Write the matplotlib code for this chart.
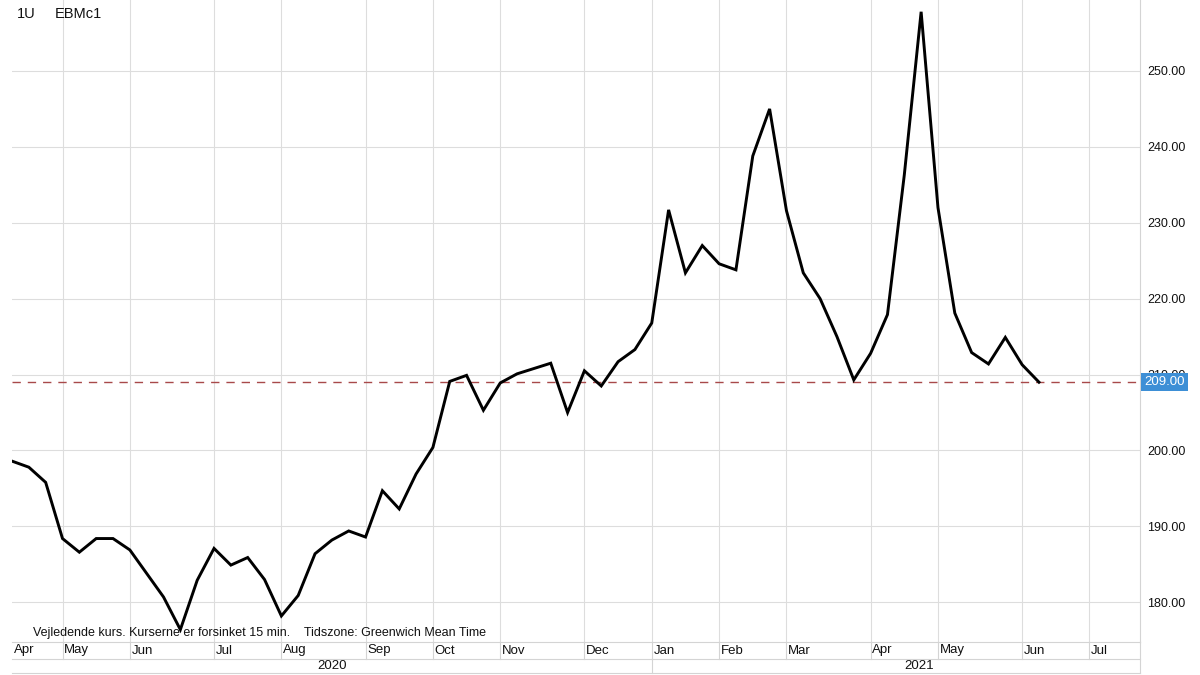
#!/usr/bin/env python3
# -*- coding: utf-8 -*-
"""
EBMc1 ugentlig kurs - genskabelse af Reuters-lignende graf
"""

import datetime as dt
import numpy as np
import matplotlib
matplotlib.use('Agg')
import matplotlib.pyplot as plt
import matplotlib.transforms as mtransforms

plt.rcParams['font.family'] = ['Liberation Sans', 'DejaVu Sans']

# data: ugentlige lukkekurser (mandage), fra 13. april 2020
start_date = dt.date(2020, 4, 13)
prices = [
    198.6, 197.8, 195.8, 188.4, 186.6, 188.4, 188.4, 186.9, 183.8, 180.7,
    176.4, 182.9, 187.1, 184.9, 185.9, 183.0, 178.2, 180.9, 186.4, 188.2,
    189.4, 188.6, 194.7, 192.3, 196.9, 200.4, 209.1, 209.9, 205.3, 208.9,
    210.1, 210.8, 211.5, 205.0, 210.5, 208.5, 211.7, 213.3, 216.8, 231.7,
    223.4, 227.0, 224.6, 223.8, 238.8, 245.0, 231.6, 223.4, 220.0, 215.0,
    209.3, 212.8, 217.9, 236.3, 257.8, 232.0, 218.1, 212.9, 211.4, 214.9,
    211.3, 209.0,
]
last_price = 209.00
y_ticks = [180, 190, 200, 210, 220, 230, 240, 250]
years = ['2020', '2021']
n_axis_weeks = 67  # uger vist paa x-aksen

grid_col = '#dddddd'
line_col = '#d4d4d4'
text_col = '#111111'

# datoer og maanedsskift (foerste uge i hver maaned)
dates = [start_date + dt.timedelta(weeks=i) for i in range(n_axis_weeks)]
month_idx = [i for i in range(n_axis_weeks) if i == 0 or dates[i].month != dates[i - 1].month]
month_names = [dates[i].strftime('%b') for i in month_idx]
year_start = [i for i in month_idx if dates[i].month == 1]

fig = plt.figure(figsize=(12, 6.75), dpi=100)
ax = fig.add_axes([12 / 1200, 33 / 675, 1128 / 1200, 642 / 675])

x = np.arange(len(prices))
ax.plot(x, prices, color='black', linewidth=2.1, zorder=3, solid_joinstyle='miter')
ax.axhline(last_price, color='#a8494a', linewidth=1.0, dashes=(6, 5), zorder=2)

ax.set_xlim(0, n_axis_weeks)
ax.set_ylim(174.77, 259.35)

# gitter
ax.set_xticks(month_idx[1:])
ax.set_xticklabels([])
ax.set_yticks(y_ticks)
ax.set_yticklabels([f'{v:.2f}' for v in y_ticks])
ax.yaxis.tick_right()
ax.tick_params(axis='both', length=0)
ax.tick_params(axis='y', pad=5, labelsize=9, labelcolor=text_col)
ax.grid(True, color=grid_col, linewidth=0.8, zorder=0)

for side in ['left', 'top']:
    ax.spines[side].set_visible(False)
for side in ['right', 'bottom']:
    ax.spines[side].set_color(line_col)
    ax.spines[side].set_linewidth(0.8)

# aksefelter under grafen: maaneder og aar
trans = ax.get_xaxis_transform()
h_px = 642.0
row1 = -17 / h_px
row2 = -31 / h_px
for yy in [row1, row2]:
    ax.plot([0, n_axis_weeks], [yy, yy], color=line_col, linewidth=0.8,
            transform=trans, clip_on=False)
ax.plot([n_axis_weeks, n_axis_weeks], [0, row2], color=line_col, linewidth=0.8,
        transform=trans, clip_on=False)
for i, name in zip(month_idx, month_names):
    if i > 0:
        ax.plot([i, i], [0, row1], color=line_col, linewidth=0.8,
                transform=trans, clip_on=False)
    ax.text(i + 0.1, row1 / 2, name, transform=trans, ha='left', va='center',
            fontsize=9.5, color=text_col)
for i in year_start:
    ax.plot([i, i], [row1, row2], color=line_col, linewidth=0.8,
            transform=trans, clip_on=False)

ax.text(year_start[0] / 2, (row1 + row2) / 2, years[0], transform=trans,
        ha='center', va='center', fontsize=9.5, color=text_col)
ax.text(53.9, (row1 + row2) / 2, years[1], transform=trans,
        ha='center', va='center', fontsize=9.5, color=text_col)

# seneste kurs i blaa boks (daekker delvist 210.00 som i originalen)
trans_y = mtransforms.blended_transform_factory(ax.transAxes, ax.transData)
ax.text(1.0035, last_price, f'{last_price:.2f}', transform=trans_y, ha='left',
        va='center', fontsize=9.5, color='white', zorder=5,
        bbox=dict(boxstyle='square,pad=0.25', facecolor='#3d8fd6', edgecolor='none'))

# tekster
ax.text(21 / 1128, 9 / h_px, 'Vejledende kurs. Kurserne er forsinket 15 min.    Tidszone: Greenwich Mean Time',
        transform=ax.transAxes, ha='left', va='center', fontsize=9, color=text_col)
fig.text(17 / 1200, 1 - 14 / 675, '1U', ha='left', va='center', fontsize=10.5, color=text_col)
fig.text(55 / 1200, 1 - 14 / 675, 'EBMc1', ha='left', va='center', fontsize=10.5, color=text_col)

fig.savefig('out.png', dpi=100, facecolor='white')
